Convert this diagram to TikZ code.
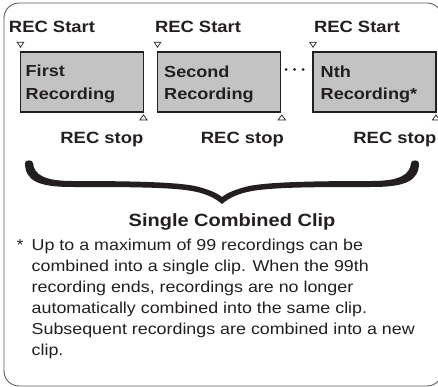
\documentclass[tikz,border=0pt]{standalone}
\usepackage{fontspec}
\setmainfont{Liberation Sans}[FakeStretch=1.13]
\usetikzlibrary{calc}
\definecolor{boxgray}{HTML}{C3C3C3}
\definecolor{ink}{HTML}{231F20}
\definecolor{framegray}{HTML}{5A5A5A}
\begin{document}
\begin{tikzpicture}[x=1pt,y=-1pt,
  outerframe/.style={draw=framegray, line width=0.9pt, rounded corners=15pt},
  recbox/.style={draw=ink, fill=boxgray, line width=1.8pt, minimum width=123pt, minimum height=60.5pt, inner sep=0pt, outer sep=0pt},
  lbl/.style={inner sep=0pt, text=ink, font=\fontsize{16.3}{19}\selectfont\bfseries},
  boxtxt/.style={inner sep=0pt, anchor=base west, text=ink, font=\fontsize{16}{19}\selectfont\bfseries},
  cliptitle/.style={inner sep=0pt, anchor=base, text=ink, font=\fontsize{17.7}{21}\selectfont\bfseries},
  fnote/.style={inner sep=0pt, anchor=base west, text=ink, font=\fontsize{15.8}{21}\selectfont},
  tri/.style={draw=ink, fill=white, line width=0.7pt, line join=miter},
]
\useasboundingbox (0,0) rectangle (438,387);
\begin{scope}
\clip (0,0) rectangle (438,387);
\draw[outerframe] (4,3) rectangle (442,386);
\end{scope}

% recording boxes
\node[recbox] (b1) at (82,82) {};
\node[recbox] (b2) at (219,82) {};
\node[recbox] (b3) at (374.5,82) {};

\node[boxtxt] (t1a) at (25.5,77) {First};
\node[boxtxt] (t1b) at (25.5,99.5) {Recording};
\node[boxtxt] (t2a) at (164,77.5) {Second};
\node[boxtxt] (t2b) at (164,100) {Recording};
\node[boxtxt] (t3a) at (320.5,77.5) {Nth};
\node[boxtxt] (t3b) at (320.5,100) {Recording*};

% REC Start labels
\node[lbl, anchor=base west] (s1) at (8.8,33) {REC Start};
\node[lbl, anchor=base west] (s2) at (154.8,33) {REC Start};
\node[lbl, anchor=base west] (s3) at (313.8,33) {REC Start};

% REC stop labels
\node[lbl, anchor=base east] (e1) at (143.5,144) {REC stop};
\node[lbl, anchor=base east] (e2) at (284,144) {REC stop};
\node[lbl, anchor=base east] (e3) at (436.5,144) {REC stop};

% start markers (down triangles)
\foreach \b in {b1,b2,b3}{
  \draw[tri] ($(\b.north west)+(0,-4.5)$) -- ++(-3.3,-5) -- ++(6.6,0) -- cycle;
}
% stop markers (up triangles)
\foreach \b/\dx in {b1/0,b2/1.3,b3/0}{
  \draw[tri] ($(\b.south east)+(\dx,2.7)$) -- ++(-3.6,5) -- ++(7.2,0) -- cycle;
}

% dots
\fill[ink] (286,69.5) circle (1.5pt);
\fill[ink] (294.5,69.5) circle (1.5pt);
\fill[ink] (303,69.5) circle (1.5pt);

% brace
\fill[ink] (33,163) .. controls (34,175) and (45,181) .. (72,181)
  .. controls (130,181) and (175,182) .. (195,186)
  .. controls (208,189) and (217,193) .. (222,197)
  .. controls (227,193) and (236,189) .. (249,186)
  .. controls (269,182) and (314,181) .. (372,181)
  .. controls (399,181) and (410,175) .. (411,163)
  .. controls (411.5,159.5) and (418.5,159.5) .. (419,163)
  .. controls (419,181) and (405,187) .. (372,187)
  .. controls (320,187) and (275,187) .. (252,191)
  .. controls (238,193.5) and (229,198) .. (222,204)
  .. controls (215,198) and (206,193.5) .. (192,191)
  .. controls (169,187) and (124,187) .. (72,187)
  .. controls (39,187) and (25,181) .. (25,163)
  .. controls (25.5,159.5) and (32.5,159.5) .. (33,163) -- cycle;

\node[cliptitle] (clip) at (232,226) {Single Combined Clip};

% footnote
\node[fnote] (ast) at (16.5,250.7) {*};
\node[fnote] (n1) at (31.5,250.7) {Up to a maximum of 99 recordings can be};
\node[fnote] (n2) at (31.5,271.7) {combined into a single clip. When the 99th};
\node[fnote] (n3) at (31.5,292.7) {recording ends, recordings are no longer};
\node[fnote] (n4) at (31.5,313.7) {automatically combined into the same clip.};
\node[fnote] (n5) at (31.5,334.7) {Subsequent recordings are combined into a new};
\node[fnote] (n6) at (31.5,355.7) {clip.};
\end{tikzpicture}
\end{document}
